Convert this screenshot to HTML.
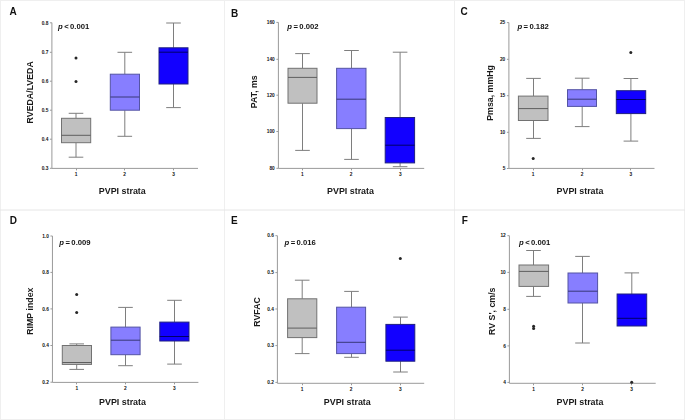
<!DOCTYPE html>
<html><head><meta charset="utf-8"><style>
html,body{margin:0;padding:0;background:#fff;}
body{width:685px;height:420px;overflow:hidden;position:relative;}
svg{position:absolute;left:0;top:0;display:block;}
svg.mn{will-change:transform;}
text{font-family:"Liberation Sans",sans-serif;}
.pl{font-size:10px;font-weight:bold;fill:#111;}
.yl{font-size:8.8px;font-weight:bold;fill:#1a1a1a;}
.xl{font-size:8.9px;font-weight:bold;fill:#1a1a1a;text-anchor:middle;}
.tk{font-size:4.8px;fill:#111;font-weight:bold;}
.tky{text-anchor:end;}
.tkx{text-anchor:middle;}
.pv{font-size:7.7px;word-spacing:-0.7px;font-weight:bold;fill:#111;}
</style></head><body>
<svg class="ov" width="685" height="420" viewBox="0 0 685 420">
<text class="tk tky" x="48.3" y="170">0.3</text>
<text class="tk tky" x="48.3" y="140.9">0.4</text>
<text class="tk tky" x="48.3" y="111.9">0.5</text>
<text class="tk tky" x="48.3" y="82.9">0.6</text>
<text class="tk tky" x="48.3" y="54">0.7</text>
<text class="tk tky" x="48.3" y="24.5">0.8</text>
<text class="tk tkx" x="76" y="175.7">1</text>
<text class="tk tkx" x="124.6" y="175.7">2</text>
<text class="tk tkx" x="173.5" y="175.7">3</text>
<text class="tk tky" x="274.8" y="170">80</text>
<text class="tk tky" x="274.8" y="133.2">100</text>
<text class="tk tky" x="274.8" y="96.9">120</text>
<text class="tk tky" x="274.8" y="61">140</text>
<text class="tk tky" x="274.8" y="24.1">160</text>
<text class="tk tkx" x="302.3" y="175.7">1</text>
<text class="tk tkx" x="351.2" y="175.7">2</text>
<text class="tk tkx" x="400.3" y="175.7">3</text>
<text class="tk tky" x="505.3" y="170.2">5</text>
<text class="tk tky" x="505.3" y="134">10</text>
<text class="tk tky" x="505.3" y="97.4">15</text>
<text class="tk tky" x="505.3" y="61">20</text>
<text class="tk tky" x="505.3" y="24.3">25</text>
<text class="tk tkx" x="533.2" y="175.7">1</text>
<text class="tk tkx" x="582" y="175.7">2</text>
<text class="tk tkx" x="630.8" y="175.7">3</text>
<text class="tk tky" x="48.85" y="383.9">0.2</text>
<text class="tk tky" x="48.85" y="347.2">0.4</text>
<text class="tk tky" x="48.85" y="310.6">0.6</text>
<text class="tk tky" x="48.85" y="274.1">0.8</text>
<text class="tk tky" x="48.85" y="237.7">1.0</text>
<text class="tk tkx" x="76.8" y="389.7">1</text>
<text class="tk tkx" x="125.4" y="389.7">2</text>
<text class="tk tkx" x="174.3" y="389.7">3</text>
<text class="tk tky" x="273.8" y="384.1">0.2</text>
<text class="tk tky" x="273.8" y="347.3">0.3</text>
<text class="tk tky" x="273.8" y="310.7">0.4</text>
<text class="tk tky" x="273.8" y="274.3">0.5</text>
<text class="tk tky" x="273.8" y="237.4">0.6</text>
<text class="tk tkx" x="302" y="390.6">1</text>
<text class="tk tkx" x="351.2" y="390.6">2</text>
<text class="tk tkx" x="400.3" y="390.6">3</text>
<text class="tk tky" x="505.8" y="384.1">4</text>
<text class="tk tky" x="505.8" y="347.6">6</text>
<text class="tk tky" x="505.8" y="311">8</text>
<text class="tk tky" x="505.8" y="274.1">10</text>
<text class="tk tky" x="505.8" y="237.4">12</text>
<text class="tk tkx" x="533.6" y="390.6">1</text>
<text class="tk tkx" x="582.5" y="390.6">2</text>
<text class="tk tkx" x="631.7" y="390.6">3</text>
</svg>
<svg class="mn" width="685" height="420" viewBox="0 0 685 420">
<g stroke="#efefef" stroke-width="1" fill="none">
<rect x="0.5" y="0.5" width="684" height="419"/>
<line x1="224.5" y1="0" x2="224.5" y2="420"/>
<line x1="454.5" y1="0" x2="454.5" y2="420"/>
<line x1="0" y1="210" x2="685" y2="210" stroke="#e6e6e6"/>
</g>
<text class="pl" x="9.5" y="14.7">A</text>
<g stroke="#9a9a9a" stroke-width="1" fill="none">
<line x1="51.9" y1="22.7" x2="51.9" y2="168.4"/>
<line x1="51.9" y1="168.4" x2="198" y2="168.4"/>
<line x1="49.9" y1="168.3" x2="51.9" y2="168.3"/>
<line x1="49.9" y1="139.2" x2="51.9" y2="139.2"/>
<line x1="49.9" y1="110.2" x2="51.9" y2="110.2"/>
<line x1="49.9" y1="81.2" x2="51.9" y2="81.2"/>
<line x1="49.9" y1="52.3" x2="51.9" y2="52.3"/>
<line x1="49.9" y1="22.8" x2="51.9" y2="22.8"/>
<line x1="76.5" y1="168.4" x2="76.5" y2="170.4"/>
<line x1="124.5" y1="168.4" x2="124.5" y2="170.4"/>
<line x1="173.5" y1="168.4" x2="173.5" y2="170.4"/>
</g>
<text class="yl" text-anchor="middle" transform="translate(32.6,92.3) rotate(-90)">RVEDA/LVEDA</text>
<text class="xl" x="122.3" y="194">PVPI strata</text>
<text class="pv" x="58" y="28.5"><tspan font-style="italic">p</tspan> < 0.001</text>
<g fill="none" stroke="#7e7e7e" stroke-width="1">
<line x1="76" y1="113.3" x2="76" y2="118.3"/>
<line x1="68.7" y1="113.3" x2="83.3" y2="113.3"/>
<line x1="76" y1="142.7" x2="76" y2="157.2"/>
<line x1="68.7" y1="157.2" x2="83.3" y2="157.2"/>
</g>
<rect x="61.5" y="118.3" width="29.2" height="24.4" fill="#c0c0c0" stroke="#727272" stroke-width="1"/>
<line x1="61.5" y1="135.3" x2="90.7" y2="135.3" stroke="#5e5e5e" stroke-width="1"/>
<g fill="none" stroke="#7e7e7e" stroke-width="1">
<line x1="124.8" y1="52.3" x2="124.8" y2="74.2"/>
<line x1="117.5" y1="52.3" x2="132.1" y2="52.3"/>
<line x1="124.8" y1="110.2" x2="124.8" y2="136.3"/>
<line x1="117.5" y1="136.3" x2="132.1" y2="136.3"/>
</g>
<rect x="110.3" y="74.2" width="29.2" height="36" fill="#877eff" stroke="#5454a4" stroke-width="1"/>
<line x1="110.3" y1="97" x2="139.5" y2="97" stroke="#383878" stroke-width="1"/>
<g fill="none" stroke="#7e7e7e" stroke-width="1">
<line x1="173.5" y1="23" x2="173.5" y2="47.8"/>
<line x1="166.2" y1="23" x2="180.8" y2="23"/>
<line x1="173.5" y1="84" x2="173.5" y2="107.6"/>
<line x1="166.2" y1="107.6" x2="180.8" y2="107.6"/>
</g>
<rect x="159" y="47.8" width="29" height="36.2" fill="#1200ff" stroke="#202080" stroke-width="1"/>
<line x1="159" y1="52.2" x2="188" y2="52.2" stroke="#000068" stroke-width="1"/>
<circle cx="76" cy="58" r="1.5" fill="#262626"/>
<circle cx="76" cy="81.4" r="1.5" fill="#262626"/>
<text class="pl" x="231" y="16.8">B</text>
<g stroke="#9a9a9a" stroke-width="1" fill="none">
<line x1="278.4" y1="22.4" x2="278.4" y2="168.4"/>
<line x1="278.4" y1="168.4" x2="424.2" y2="168.4"/>
<line x1="276.4" y1="168.3" x2="278.4" y2="168.3"/>
<line x1="276.4" y1="131.5" x2="278.4" y2="131.5"/>
<line x1="276.4" y1="95.2" x2="278.4" y2="95.2"/>
<line x1="276.4" y1="59.3" x2="278.4" y2="59.3"/>
<line x1="276.4" y1="22.4" x2="278.4" y2="22.4"/>
<line x1="302.5" y1="168.4" x2="302.5" y2="170.4"/>
<line x1="351.5" y1="168.4" x2="351.5" y2="170.4"/>
<line x1="400.5" y1="168.4" x2="400.5" y2="170.4"/>
</g>
<text class="yl" text-anchor="middle" transform="translate(257,91.7) rotate(-90)">PAT, ms</text>
<text class="xl" x="350.5" y="194">PVPI strata</text>
<text class="pv" x="287.3" y="28.5"><tspan font-style="italic">p</tspan> = 0.002</text>
<g fill="none" stroke="#7e7e7e" stroke-width="1">
<line x1="302.5" y1="53.6" x2="302.5" y2="68.3"/>
<line x1="295.2" y1="53.6" x2="309.8" y2="53.6"/>
<line x1="302.5" y1="103.2" x2="302.5" y2="150.4"/>
<line x1="295.2" y1="150.4" x2="309.8" y2="150.4"/>
</g>
<rect x="288" y="68.3" width="29" height="34.9" fill="#c0c0c0" stroke="#727272" stroke-width="1"/>
<line x1="288" y1="77.4" x2="317" y2="77.4" stroke="#5e5e5e" stroke-width="1"/>
<g fill="none" stroke="#7e7e7e" stroke-width="1">
<line x1="351.5" y1="50.5" x2="351.5" y2="68.3"/>
<line x1="344.2" y1="50.5" x2="358.8" y2="50.5"/>
<line x1="351.5" y1="128.6" x2="351.5" y2="159.4"/>
<line x1="344.2" y1="159.4" x2="358.8" y2="159.4"/>
</g>
<rect x="336.6" y="68.3" width="29.4" height="60.3" fill="#877eff" stroke="#5454a4" stroke-width="1"/>
<line x1="336.6" y1="99.2" x2="366" y2="99.2" stroke="#383878" stroke-width="1"/>
<g fill="none" stroke="#7e7e7e" stroke-width="1">
<line x1="400.1" y1="52.2" x2="400.1" y2="117.5"/>
<line x1="392.8" y1="52.2" x2="407.4" y2="52.2"/>
<line x1="400.1" y1="162.9" x2="400.1" y2="166.7"/>
<line x1="392.8" y1="166.7" x2="407.4" y2="166.7"/>
</g>
<rect x="385.2" y="117.5" width="29.4" height="45.4" fill="#1200ff" stroke="#202080" stroke-width="1"/>
<line x1="385.2" y1="145.2" x2="414.6" y2="145.2" stroke="#000068" stroke-width="1"/>
<text class="pl" x="460.6" y="14.6">C</text>
<g stroke="#9a9a9a" stroke-width="1" fill="none">
<line x1="508.9" y1="22.6" x2="508.9" y2="168.4"/>
<line x1="508.9" y1="168.4" x2="654.5" y2="168.4"/>
<line x1="506.9" y1="168.5" x2="508.9" y2="168.5"/>
<line x1="506.9" y1="132.3" x2="508.9" y2="132.3"/>
<line x1="506.9" y1="95.7" x2="508.9" y2="95.7"/>
<line x1="506.9" y1="59.3" x2="508.9" y2="59.3"/>
<line x1="506.9" y1="22.6" x2="508.9" y2="22.6"/>
<line x1="533.5" y1="168.4" x2="533.5" y2="170.4"/>
<line x1="582.5" y1="168.4" x2="582.5" y2="170.4"/>
<line x1="630.5" y1="168.4" x2="630.5" y2="170.4"/>
</g>
<text class="yl" text-anchor="middle" transform="translate(492.5,92.9) rotate(-90)">Pmsa, mmHg</text>
<text class="xl" x="580" y="194">PVPI strata</text>
<text class="pv" x="517.4" y="28.5"><tspan font-style="italic">p</tspan> = 0.182</text>
<g fill="none" stroke="#7e7e7e" stroke-width="1">
<line x1="533.5" y1="78.4" x2="533.5" y2="96.1"/>
<line x1="526.2" y1="78.4" x2="540.8" y2="78.4"/>
<line x1="533.5" y1="120.5" x2="533.5" y2="138.4"/>
<line x1="526.2" y1="138.4" x2="540.8" y2="138.4"/>
</g>
<rect x="518.4" y="96.1" width="29.6" height="24.4" fill="#c0c0c0" stroke="#727272" stroke-width="1"/>
<line x1="518.4" y1="108.6" x2="548" y2="108.6" stroke="#5e5e5e" stroke-width="1"/>
<g fill="none" stroke="#7e7e7e" stroke-width="1">
<line x1="582.2" y1="78.2" x2="582.2" y2="89.7"/>
<line x1="574.9" y1="78.2" x2="589.5" y2="78.2"/>
<line x1="582.2" y1="106.4" x2="582.2" y2="126.6"/>
<line x1="574.9" y1="126.6" x2="589.5" y2="126.6"/>
</g>
<rect x="567.5" y="89.7" width="29" height="16.7" fill="#877eff" stroke="#5454a4" stroke-width="1"/>
<line x1="567.5" y1="99.2" x2="596.5" y2="99.2" stroke="#383878" stroke-width="1"/>
<g fill="none" stroke="#7e7e7e" stroke-width="1">
<line x1="630.9" y1="78.5" x2="630.9" y2="90.7"/>
<line x1="623.6" y1="78.5" x2="638.2" y2="78.5"/>
<line x1="630.9" y1="113.6" x2="630.9" y2="141.1"/>
<line x1="623.6" y1="141.1" x2="638.2" y2="141.1"/>
</g>
<rect x="616.3" y="90.7" width="29.4" height="22.9" fill="#1200ff" stroke="#202080" stroke-width="1"/>
<line x1="616.3" y1="99.5" x2="645.7" y2="99.5" stroke="#000068" stroke-width="1"/>
<circle cx="533.2" cy="158.6" r="1.5" fill="#262626"/>
<circle cx="630.8" cy="52.6" r="1.5" fill="#262626"/>
<text class="pl" x="9.7" y="223.8">D</text>
<g stroke="#9a9a9a" stroke-width="1" fill="none">
<line x1="52.45" y1="236" x2="52.45" y2="382.4"/>
<line x1="52.45" y1="382.4" x2="198.4" y2="382.4"/>
<line x1="50.45" y1="382.2" x2="52.45" y2="382.2"/>
<line x1="50.45" y1="345.5" x2="52.45" y2="345.5"/>
<line x1="50.45" y1="308.9" x2="52.45" y2="308.9"/>
<line x1="50.45" y1="272.4" x2="52.45" y2="272.4"/>
<line x1="50.45" y1="236" x2="52.45" y2="236"/>
<line x1="76.5" y1="382.4" x2="76.5" y2="384.4"/>
<line x1="125.5" y1="382.4" x2="125.5" y2="384.4"/>
<line x1="174.5" y1="382.4" x2="174.5" y2="384.4"/>
</g>
<text class="yl" text-anchor="middle" transform="translate(33,311.2) rotate(-90)">RIMP index</text>
<text class="xl" x="122.5" y="405.2">PVPI strata</text>
<text class="pv" x="59.3" y="244.8"><tspan font-style="italic">p</tspan> = 0.009</text>
<g fill="none" stroke="#7e7e7e" stroke-width="1">
<line x1="76.7" y1="343.9" x2="76.7" y2="345.5"/>
<line x1="69.4" y1="343.9" x2="84" y2="343.9"/>
<line x1="76.7" y1="364.4" x2="76.7" y2="369.4"/>
<line x1="69.4" y1="369.4" x2="84" y2="369.4"/>
</g>
<rect x="62.3" y="345.5" width="29.2" height="18.9" fill="#c0c0c0" stroke="#727272" stroke-width="1"/>
<line x1="62.3" y1="362.5" x2="91.5" y2="362.5" stroke="#5e5e5e" stroke-width="1"/>
<g fill="none" stroke="#7e7e7e" stroke-width="1">
<line x1="125.5" y1="307.4" x2="125.5" y2="327.1"/>
<line x1="118.2" y1="307.4" x2="132.8" y2="307.4"/>
<line x1="125.5" y1="354.7" x2="125.5" y2="365.7"/>
<line x1="118.2" y1="365.7" x2="132.8" y2="365.7"/>
</g>
<rect x="110.9" y="327.1" width="29.2" height="27.6" fill="#877eff" stroke="#5454a4" stroke-width="1"/>
<line x1="110.9" y1="340.2" x2="140.1" y2="340.2" stroke="#383878" stroke-width="1"/>
<g fill="none" stroke="#7e7e7e" stroke-width="1">
<line x1="174.5" y1="300.3" x2="174.5" y2="322.1"/>
<line x1="167.2" y1="300.3" x2="181.8" y2="300.3"/>
<line x1="174.5" y1="341" x2="174.5" y2="364.1"/>
<line x1="167.2" y1="364.1" x2="181.8" y2="364.1"/>
</g>
<rect x="159.8" y="322.1" width="29.2" height="18.9" fill="#1200ff" stroke="#202080" stroke-width="1"/>
<line x1="159.8" y1="336.5" x2="189" y2="336.5" stroke="#000068" stroke-width="1"/>
<circle cx="76.7" cy="294.5" r="1.5" fill="#262626"/>
<circle cx="76.7" cy="312.6" r="1.5" fill="#262626"/>
<text class="pl" x="231" y="223.8">E</text>
<g stroke="#9a9a9a" stroke-width="1" fill="none">
<line x1="277.4" y1="235.7" x2="277.4" y2="383.3"/>
<line x1="277.4" y1="383.3" x2="424.2" y2="383.3"/>
<line x1="275.4" y1="382.4" x2="277.4" y2="382.4"/>
<line x1="275.4" y1="345.6" x2="277.4" y2="345.6"/>
<line x1="275.4" y1="309" x2="277.4" y2="309"/>
<line x1="275.4" y1="272.6" x2="277.4" y2="272.6"/>
<line x1="275.4" y1="235.7" x2="277.4" y2="235.7"/>
<line x1="302.5" y1="383.3" x2="302.5" y2="385.3"/>
<line x1="351.5" y1="383.3" x2="351.5" y2="385.3"/>
<line x1="400.5" y1="383.3" x2="400.5" y2="385.3"/>
</g>
<text class="yl" text-anchor="middle" transform="translate(260,311.9) rotate(-90)">RVFAC</text>
<text class="xl" x="347.3" y="405.2">PVPI strata</text>
<text class="pv" x="284.5" y="244.5"><tspan font-style="italic">p</tspan> = 0.016</text>
<g fill="none" stroke="#7e7e7e" stroke-width="1">
<line x1="302.2" y1="280.2" x2="302.2" y2="298.8"/>
<line x1="294.9" y1="280.2" x2="309.5" y2="280.2"/>
<line x1="302.2" y1="337.6" x2="302.2" y2="353.6"/>
<line x1="294.9" y1="353.6" x2="309.5" y2="353.6"/>
</g>
<rect x="287.6" y="298.8" width="29.2" height="38.8" fill="#c0c0c0" stroke="#727272" stroke-width="1"/>
<line x1="287.6" y1="328.1" x2="316.8" y2="328.1" stroke="#5e5e5e" stroke-width="1"/>
<g fill="none" stroke="#7e7e7e" stroke-width="1">
<line x1="351.5" y1="291.4" x2="351.5" y2="307.2"/>
<line x1="344.2" y1="291.4" x2="358.8" y2="291.4"/>
<line x1="351.5" y1="353.6" x2="351.5" y2="357.3"/>
<line x1="344.2" y1="357.3" x2="358.8" y2="357.3"/>
</g>
<rect x="336.6" y="307.2" width="29" height="46.4" fill="#877eff" stroke="#5454a4" stroke-width="1"/>
<line x1="336.6" y1="342.3" x2="365.6" y2="342.3" stroke="#383878" stroke-width="1"/>
<g fill="none" stroke="#7e7e7e" stroke-width="1">
<line x1="400.5" y1="317.1" x2="400.5" y2="324.4"/>
<line x1="393.2" y1="317.1" x2="407.8" y2="317.1"/>
<line x1="400.5" y1="361.2" x2="400.5" y2="372"/>
<line x1="393.2" y1="372" x2="407.8" y2="372"/>
</g>
<rect x="385.9" y="324.4" width="28.9" height="36.8" fill="#1200ff" stroke="#202080" stroke-width="1"/>
<line x1="385.9" y1="350.2" x2="414.8" y2="350.2" stroke="#000068" stroke-width="1"/>
<circle cx="400.3" cy="258.5" r="1.5" fill="#262626"/>
<text class="pl" x="461.8" y="223.8">F</text>
<g stroke="#9a9a9a" stroke-width="1" fill="none">
<line x1="509.4" y1="235.7" x2="509.4" y2="383.3"/>
<line x1="509.4" y1="383.3" x2="655.7" y2="383.3"/>
<line x1="507.4" y1="382.4" x2="509.4" y2="382.4"/>
<line x1="507.4" y1="345.9" x2="509.4" y2="345.9"/>
<line x1="507.4" y1="309.3" x2="509.4" y2="309.3"/>
<line x1="507.4" y1="272.4" x2="509.4" y2="272.4"/>
<line x1="507.4" y1="235.7" x2="509.4" y2="235.7"/>
<line x1="533.5" y1="383.3" x2="533.5" y2="385.3"/>
<line x1="582.5" y1="383.3" x2="582.5" y2="385.3"/>
<line x1="631.5" y1="383.3" x2="631.5" y2="385.3"/>
</g>
<text class="yl" text-anchor="middle" transform="translate(494.5,311.2) rotate(-90)">RV S', cm/s</text>
<text class="xl" x="580" y="405.2">PVPI strata</text>
<text class="pv" x="519" y="244.6"><tspan font-style="italic">p</tspan> < 0.001</text>
<g fill="none" stroke="#7e7e7e" stroke-width="1">
<line x1="533.5" y1="250.5" x2="533.5" y2="265"/>
<line x1="526.2" y1="250.5" x2="540.8" y2="250.5"/>
<line x1="533.5" y1="286.4" x2="533.5" y2="296.4"/>
<line x1="526.2" y1="296.4" x2="540.8" y2="296.4"/>
</g>
<rect x="519" y="265" width="29.6" height="21.4" fill="#c0c0c0" stroke="#727272" stroke-width="1"/>
<line x1="519" y1="271.4" x2="548.6" y2="271.4" stroke="#5e5e5e" stroke-width="1"/>
<g fill="none" stroke="#7e7e7e" stroke-width="1">
<line x1="582.5" y1="256.4" x2="582.5" y2="273"/>
<line x1="575.2" y1="256.4" x2="589.8" y2="256.4"/>
<line x1="582.5" y1="303" x2="582.5" y2="343"/>
<line x1="575.2" y1="343" x2="589.8" y2="343"/>
</g>
<rect x="568" y="273" width="29.6" height="30" fill="#877eff" stroke="#5454a4" stroke-width="1"/>
<line x1="568" y1="291.2" x2="597.6" y2="291.2" stroke="#383878" stroke-width="1"/>
<g fill="none" stroke="#7e7e7e" stroke-width="1">
<line x1="631.8" y1="272.9" x2="631.8" y2="294"/>
<line x1="624.5" y1="272.9" x2="639.1" y2="272.9"/>
</g>
<rect x="617.1" y="294" width="29.6" height="32" fill="#1200ff" stroke="#202080" stroke-width="1"/>
<line x1="617.1" y1="318.3" x2="646.7" y2="318.3" stroke="#000068" stroke-width="1"/>
<circle cx="533.6" cy="326.3" r="1.5" fill="#262626"/>
<circle cx="533.6" cy="328.6" r="1.5" fill="#262626"/>
<circle cx="631.7" cy="382.3" r="1.5" fill="#262626"/>
</svg>
</body></html>
